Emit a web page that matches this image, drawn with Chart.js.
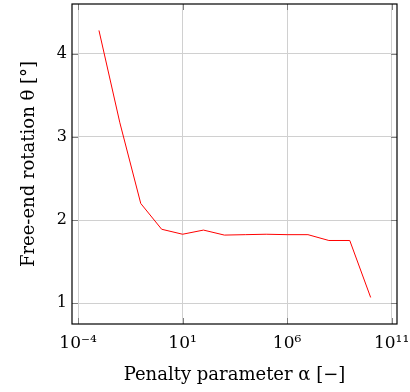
<!DOCTYPE html>
<html>
<head>
<meta charset="utf-8">
<script src="https://cdn.jsdelivr.net/npm/chart.js@4/dist/chart.umd.min.js"></script>
<style>
html,body{margin:0;padding:0;background:#fff;}
#wrap{width:410px;height:392px;}
</style>
</head>
<body>
<div id="wrap"><canvas id="c" width="410" height="392"></canvas></div>
<script>
// Data
const alphaValues = [1e-3, 1e-2, 1e-1, 1e0, 1e1, 1e2, 1e3, 1e4, 1e5, 1e6, 1e7, 1e8, 1e9, 1e10];
const rotationValues = [4.28, 3.17, 2.20, 1.89, 1.83, 1.88, 1.82, 1.825, 1.83, 1.825, 1.825, 1.755, 1.755, 1.07];
const xTickValues = [1e-4, 1e1, 1e6, 1e11];
const xTickLabels = ['10⁻⁴', '10¹', '10⁶', '10¹¹'];
const yTickValues = [1, 2, 3, 4];
const xTitle = 'Penalty parameter α [−]';
const yTitle = 'Free-end rotation θ [°]';

const serif = '"DejaVu Serif", "Liberation Serif", serif';

const framePlugin = {
  id: 'frame',
  afterDraw(chart) {
    const {ctx, chartArea: a, scales} = chart;
    ctx.save();
    // inner tick marks (pgfplots style)
    ctx.strokeStyle = '#808080';
    ctx.lineWidth = 1;
    const tl = 6;
    ctx.beginPath();
    scales.x.ticks.forEach(t => {
      const px = Math.round(scales.x.getPixelForValue(t.value)) + 0.5;
      ctx.moveTo(px, a.bottom); ctx.lineTo(px, a.bottom - tl);
      ctx.moveTo(px, a.top); ctx.lineTo(px, a.top + tl);
    });
    scales.y.ticks.forEach(t => {
      const py = Math.round(scales.y.getPixelForValue(t.value)) + 0.5;
      ctx.moveTo(a.left, py); ctx.lineTo(a.left + tl, py);
      ctx.moveTo(a.right, py); ctx.lineTo(a.right - tl, py);
    });
    ctx.stroke();
    // frame
    ctx.strokeStyle = '#000';
    ctx.lineWidth = 1.2;
    ctx.strokeRect(a.left, a.top, a.right - a.left, a.bottom - a.top);
    ctx.restore();
  }
};

function noPad(scale) {
  scale.paddingTop = 0; scale.paddingBottom = 0;
  scale.paddingLeft = 0; scale.paddingRight = 0;
}

new Chart(document.getElementById('c'), {
  type: 'line',
  data: {
    datasets: [{
      data: alphaValues.map((a, i) => ({x: a, y: rotationValues[i]})),
      borderColor: 'rgb(255,0,0)',
      borderWidth: 1,
      pointRadius: 0,
      tension: 0,
      fill: false
    }]
  },
  options: {
    responsive: false,
    animation: false,
    devicePixelRatio: 1,
    layout: {padding: {left: 0, right: 13, top: 4, bottom: 0}},
    plugins: {legend: {display: false}, tooltip: {enabled: false}},
    scales: {
      x: {
        type: 'logarithmic',
        min: Math.pow(10, -4.29),
        max: Math.pow(10, 11.26),
        afterBuildTicks(scale) { scale.ticks = xTickValues.map(v => ({value: v})); },
        afterFit(scale) { scale.height = 68; noPad(scale); },
        ticks: {
          callback(v) { const i = xTickValues.indexOf(v); return i >= 0 ? xTickLabels[i] : ''; },
          font: {family: serif, size: 17},
          color: '#000',
          padding: 9,
          maxRotation: 0,
          autoSkip: false
        },
        grid: {color: '#d0d0d0', lineWidth: 1, drawTicks: false},
        border: {display: false},
        title: {display: true, text: xTitle, font: {family: serif, size: 18}, color: '#000', padding: {top: 0, bottom: 6}}
      },
      y: {
        type: 'linear',
        min: 0.751,
        max: 4.598,
        afterBuildTicks(scale) { scale.ticks = yTickValues.map(v => ({value: v})); },
        afterFit(scale) { scale.width = 72; noPad(scale); },
        ticks: {
          font: {family: serif, size: 16},
          color: '#000',
          padding: 5
        },
        grid: {color: '#d0d0d0', lineWidth: 1, drawTicks: false},
        border: {display: false},
        title: {display: true, text: yTitle, font: {family: serif, size: 18}, color: '#000', padding: {top: 19, bottom: 0}}
      }
    }
  },
  plugins: [framePlugin]
});
</script>
</body>
</html>
